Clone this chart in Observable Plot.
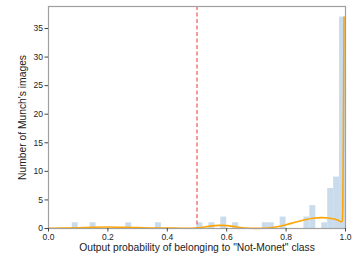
<!DOCTYPE html>
<html>
<head>
<meta charset="utf-8">
<script src="https://cdn.jsdelivr.net/npm/d3@7"></script>
<script src="https://cdn.jsdelivr.net/npm/@observablehq/plot@0.6"></script>
<style>
  html, body { margin: 0; padding: 0; background: #fff; }
  #chart { width: 354px; height: 262px; }
</style>
</head>
<body>
<div id="chart"></div>
<script>
// Histogram bins (start of each 0.02-wide bin) and counts
const binStarts = [0.08, 0.14, 0.26, 0.36, 0.50, 0.54, 0.58, 0.62, 0.72, 0.74, 0.78, 0.86, 0.88, 0.92, 0.94, 0.96, 0.98];
const binCounts = [1, 1, 1, 1, 1, 1, 2, 1, 1, 1, 2, 2, 4, 1, 7, 9, 37];
const binWidth = 0.02;

// KDE curve
const kdeX = [0, 0.05, 0.1, 0.15, 0.2, 0.25, 0.3, 0.35, 0.4, 0.45, 0.5, 0.53, 0.56, 0.58, 0.6, 0.63, 0.66, 0.7, 0.74, 0.77, 0.8, 0.83, 0.86, 0.89, 0.92, 0.94, 0.96, 0.975, 0.985, 0.989, 0.991, 0.993, 0.995];
const kdeY = [0.05, 0.08, 0.12, 0.2, 0.25, 0.2, 0.15, 0.1, 0.08, 0.05, 0.1, 0.3, 0.5, 0.55, 0.5, 0.3, 0.1, 0.03, 0.1, 0.3, 0.65, 1.1, 1.5, 1.8, 1.9, 1.85, 1.7, 1.45, 1.2, 1.3, 4, 18, 37];

const threshold = [0.5];
const xTicks = [0, 0.2, 0.4, 0.6, 0.8, 1.0];
const yTicks = [0, 5, 10, 15, 20, 25, 30, 35];

const bars = binStarts.map((s, i) => ({x1: s, x2: s + binWidth, count: binCounts[i]}));
const kde = kdeX.map((x, i) => ({x, y: kdeY[i]}));

const chart = Plot.plot({
  width: 354,
  height: 262,
  marginLeft: 48,
  marginRight: 9,
  marginTop: 6,
  marginBottom: 34,
  style: {fontFamily: "'Liberation Sans', Arial, sans-serif", fontSize: "8.5px", color: "#222", background: "#fff"},
  x: {domain: [0, 1]},
  y: {domain: [0, 38.85]},
  marks: [
    Plot.rectY(bars, {x1: "x1", x2: "x2", y: "count", fill: "#cadcec", inset: 0}),
    Plot.ruleX(threshold, {stroke: "#f0474a", strokeDasharray: "4,2.5", strokeWidth: 1.1}),
    Plot.line(kde, {x: "x", y: "y", stroke: "#ffa500", strokeWidth: 1.6, curve: "monotone-x"}),
    Plot.frame({stroke: "#a0a0a0", strokeWidth: 1.2}),
    Plot.axisX({ticks: xTicks, tickFormat: d3.format(".1f"), tickSize: 3.5, tickPadding: 2, stroke: "#444",
      label: "Output probability of belonging to \"Not-Monet\" class", labelAnchor: "center", labelArrow: "none", labelOffset: 22, fontSize: 8.5}),
    Plot.axisY({ticks: yTicks, tickSize: 3.5, tickPadding: 2, stroke: "#444",
      label: "Number of Munch's images", labelAnchor: "center", labelArrow: "none", labelOffset: 30, fontSize: 8.5})
  ]
});
document.getElementById("chart").appendChild(chart);
// enlarge axis label font slightly
chart.querySelectorAll("g[aria-label='x-axis label'], g[aria-label='y-axis label']").forEach(g => {
  g.setAttribute("font-size", "10.3px");
  g.querySelectorAll("text").forEach(t => t.setAttribute("font-size", "10.3px"));
});
</script>
</body>
</html>
